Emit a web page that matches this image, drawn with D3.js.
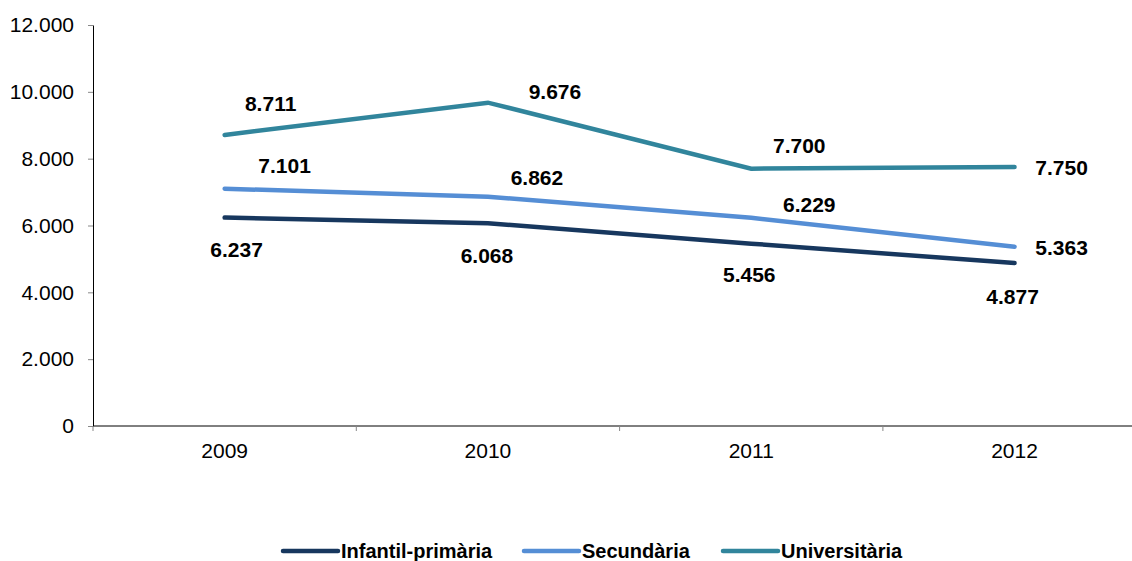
<!DOCTYPE html>
<html>
<head>
<meta charset="utf-8">
<script src="https://cdn.jsdelivr.net/npm/d3@7/dist/d3.min.js"></script>
<style>
  body { margin: 0; background: #fff; }
  text { font-family: "Liberation Sans", Arial, sans-serif; }
</style>
</head>
<body>
<div id="chart"></div>
<script>
// data
const years = ["2009", "2010", "2011", "2012"];
const infantil = [6237, 6068, 5456, 4877];
const secundaria = [7101, 6862, 6229, 5363];
const universitaria = [8711, 9676, 7700, 7750];
const yTicks = [0, 2000, 4000, 6000, 8000, 10000, 12000];

// label offsets relative to each point (layout only)
const labelOffsets = {
    infantil: [[12, 32], [-1, 32], [-2, 31], [-2, 33]],
    secundaria: [[60, -23], [49, -19], [58, -13], [47, 1]],
    universitaria: [[46, -31], [67, -11], [48, -23], [47, 0]]
};

const series = [
    { key: "infantil", name: "Infantil-primària", color: "#17375E", values: infantil },
    { key: "secundaria", name: "Secundària", color: "#558ED5", values: secundaria },
    { key: "universitaria", name: "Universitària", color: "#31859C", values: universitaria }
];

const width = 1132, height = 561;
const margin = { top: 25, left: 93 };
const plotH = 401;

const svg = d3.select("#chart").append("svg")
    .attr("width", width)
    .attr("height", height);

const x = d3.scaleBand()
    .domain(years)
    .range([margin.left, margin.left + 4 * 263.3]);

const y = d3.scaleLinear()
    .domain([0, 12000])
    .range([margin.top + plotH, margin.top]);

const fmt = v => d3.format(",")(v).replace(/,/g, ".");

// y axis
const yAxis = svg.append("g")
    .attr("transform", "translate(" + margin.left + ",0)")
    .call(d3.axisLeft(y).tickValues(yTicks).tickSize(5).tickSizeOuter(0).tickFormat(fmt));
yAxis.select(".domain").attr("stroke", "#000").attr("stroke-width", 1);
yAxis.selectAll(".tick line").attr("stroke", "#888");
yAxis.selectAll(".tick text")
    .attr("x", -19)
    .style("font-size", "21px")
    .attr("fill", "#000");

// x axis
const xAxis = svg.append("g")
    .attr("transform", "translate(0," + (margin.top + plotH) + ")");
xAxis.append("line")
    .attr("x1", margin.left).attr("x2", width)
    .attr("stroke", "#000");
xAxis.selectAll(".xt")
    .data(years.concat(["end"]))
    .enter().append("line")
    .attr("x1", (d, i) => margin.left + i * x.bandwidth())
    .attr("x2", (d, i) => margin.left + i * x.bandwidth())
    .attr("y1", 0).attr("y2", 5)
    .attr("stroke", "#888");
xAxis.selectAll(".xl")
    .data(years)
    .enter().append("text")
    .attr("x", d => x(d) + x.bandwidth() / 2)
    .attr("y", 32)
    .attr("text-anchor", "middle")
    .style("font-size", "21px")
    .text(d => d);

// lines
const line = d3.line()
    .x((d, i) => x(years[i]) + x.bandwidth() / 2)
    .y(d => y(d));

series.forEach(s => {
    svg.append("path")
        .datum(s.values)
        .attr("fill", "none")
        .attr("stroke", s.color)
        .attr("stroke-width", 4.5)
        .attr("stroke-linecap", "round")
        .attr("stroke-linejoin", "miter")
        .attr("d", line);
});

// labels
series.forEach(s => {
    svg.selectAll(".lbl-" + s.key)
        .data(s.values)
        .enter().append("text")
        .attr("x", (d, i) => x(years[i]) + x.bandwidth() / 2 + labelOffsets[s.key][i][0])
        .attr("y", (d, i) => y(d) + labelOffsets[s.key][i][1])
        .attr("dy", "0.36em")
        .attr("text-anchor", "middle")
        .style("font-size", "21px")
        .style("font-weight", "bold")
        .text(d => fmt(d));
});

// legend
const legendX = [283, 524, 723];
const legend = svg.append("g");
series.forEach((s, i) => {
    legend.append("line")
        .attr("x1", legendX[i]).attr("x2", legendX[i] + 55)
        .attr("y1", 551).attr("y2", 551)
        .attr("stroke", s.color)
        .attr("stroke-width", 4.5)
        .attr("stroke-linecap", "round");
    legend.append("text")
        .attr("x", legendX[i] + 58)
        .attr("y", 551)
        .attr("dy", "0.36em")
        .style("font-size", "20px")
        .style("font-weight", "bold")
        .text(s.name);
});
</script>
</body>
</html>
